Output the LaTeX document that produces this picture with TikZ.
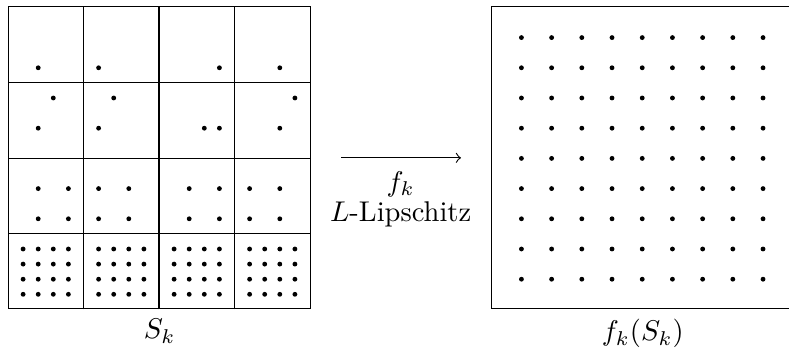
\documentclass[tikz,border=0pt]{standalone}
\usetikzlibrary{calc}
\begin{document}
\begin{tikzpicture}[x=0.186cm,y=0.186cm,
  dotmark/.style={fill=black},
  boxline/.style={draw=black,line width=0.4pt},
  lbl/.style={inner sep=0pt}]
\clip (-0.53,-2.56) rectangle (51.72,20.49);
\useasboundingbox (-0.53,-2.56) rectangle (51.72,20.49);
% left grid
\node[boxline,minimum width=3.72cm,minimum height=3.72cm,inner sep=0pt,anchor=south west] (SK) at (0,0) {};
\foreach \k in {5,10,15} {
  \draw[boxline] (\k,0) -- (\k,20);
  \draw[boxline] (0,\k) -- (20,\k);
}
% bottom row: 4x4 dots in each cell
\foreach \c in {0,1,2,3} \foreach \i in {1,2,3,4} \foreach \j in {1,2,3,4}
  \fill[dotmark] ({5*\c+\i},\j) circle[radius=0.85pt];
% second row
\foreach \p in {(2,6),(4,6),(2,8),(4,8),(6,6),(8,6),(6,8),(8,8),(12,6),(14,6),(12,8),(14,8),(16,6),(18,6),(16,8),(18,8)}
  \fill[dotmark] \p circle[radius=0.85pt];
% third row
\foreach \p in {(3,14),(2,12),(7,14),(6,12),(13,12),(14,12),(19,14),(18,12)}
  \fill[dotmark] \p circle[radius=0.85pt];
% top row
\foreach \p in {(2,16),(6,16),(14,16),(18,16)}
  \fill[dotmark] \p circle[radius=0.85pt];
\node[below] (SKl) at (SK.south) {$S_k$};
% right box
\node[boxline,minimum width=3.72cm,minimum height=3.72cm,inner sep=0pt,anchor=south west] (FS) at (32,0) {};
\foreach \i in {1,...,9} \foreach \j in {1,...,9}
  \fill[dotmark] ({32+2*\i},{2*\j}) circle[radius=0.85pt];
\node[below] (FSl) at (FS.south) {$f_k(S_k)$};
% arrow
\coordinate (A0) at ($(SK.east)+(2,0)$);
\coordinate (A1) at ($(FS.west)+(-2,0)$);
\draw[->,line width=0.4pt] (A0) -- (A1);
\node[lbl] (fk) at (26,8.3) {$f_k$};
\node[lbl] (lip) at (26,6.28) {$L$-Lipschitz};
\end{tikzpicture}
\end{document}
